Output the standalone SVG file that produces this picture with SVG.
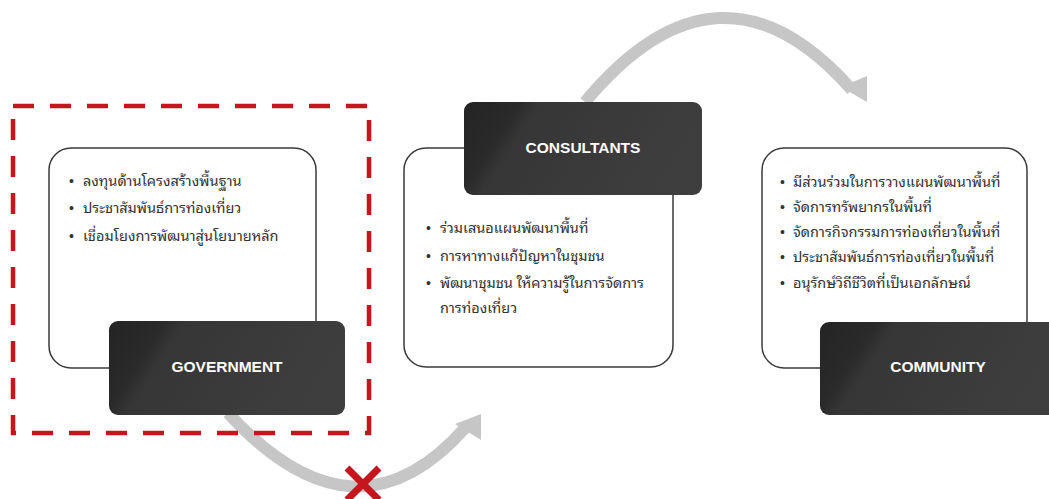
<svg xmlns="http://www.w3.org/2000/svg" width="1049" height="499" viewBox="0 0 1049 499">
<defs>
<linearGradient id="dark" x1="0" y1="0" x2="1" y2="0.25">
<stop offset="0" stop-color="#242424"/>
<stop offset="0.22" stop-color="#2a2a2a"/>
<stop offset="0.3" stop-color="#363636"/>
<stop offset="1" stop-color="#3e3e3e"/>
</linearGradient>
<style>
.card{fill:#ffffff;stroke:#3a3a3a;stroke-width:1.5}
.head{fill:url(#dark)}
.lbl{font-family:"Liberation Sans",Arial,sans-serif;font-weight:bold;font-size:15.5px;fill:#ffffff;text-anchor:middle}
.txt{font-family:"Noto Sans Thai Looped","Liberation Sans","Noto Sans Thai","Noto Sans",Tahoma,sans-serif;font-size:14.5px;fill:#333333}
.bul{font-family:"Liberation Sans",Arial,sans-serif;font-size:14px;fill:#333333}
.arc{fill:none;stroke:#c6c6c6;stroke-width:12}
.head-arrow{fill:#c6c6c6}
.red{fill:none;stroke:#c4161c}
</style>
</defs>
<rect width="1049" height="499" fill="#ffffff"/>
<g id="connectors">
<path class="arc" d="M585,102 Q720,-60 852,90"/>
<polygon class="head-arrow" points="841,87 867,76 867,102"/>
<path class="arc" d="M228,413 Q355,552 465,428"/>
<polygon class="head-arrow" points="455,424 481,414 481,440"/>
</g>
<g id="government">
<rect class="card" x="49" y="148" width="267" height="220" rx="22"/>
<text class="bul" x="69" y="186">•</text>
<text class="bul" x="69" y="213">•</text>
<text class="bul" x="69" y="241">•</text>
<text class="txt" x="83" y="186">ลงทุนด้านโครงสร้างพื้นฐาน</text>
<text class="txt" x="83" y="213">ประชาสัมพันธ์การท่องเที่ยว</text>
<text class="txt" x="83" y="241">เชื่อมโยงการพัฒนาสู่นโยบายหลัก</text>
<rect class="head" x="109" y="321" width="236" height="94" rx="9"/>
<text class="lbl" x="227" y="372">GOVERNMENT</text>
</g>
<g id="consultants">
<rect class="card" x="404" y="148" width="269" height="219" rx="22"/>
<rect class="head" x="464" y="102" width="238" height="93" rx="9"/>
<text class="lbl" x="583" y="153">CONSULTANTS</text>
<text class="bul" x="426" y="233">•</text>
<text class="bul" x="426" y="261">•</text>
<text class="bul" x="426" y="288">•</text>
<text class="txt" x="440" y="233">ร่วมเสนอแผนพัฒนาพื้นที่</text>
<text class="txt" x="440" y="261">การหาทางแก้ปัญหาในชุมชน</text>
<text class="txt" x="440" y="288">พัฒนาชุมชน ให้ความรู้ในการจัดการ</text>
<text class="txt" x="440" y="313">การท่องเที่ยว</text>
</g>
<g id="community">
<rect class="card" x="762" y="148" width="265" height="220" rx="22"/>
<text class="bul" x="780" y="187">•</text>
<text class="bul" x="780" y="212">•</text>
<text class="bul" x="780" y="237">•</text>
<text class="bul" x="780" y="262">•</text>
<text class="bul" x="780" y="288">•</text>
<text class="txt" x="793" y="187">มีส่วนร่วมในการวางแผนพัฒนาพื้นที่</text>
<text class="txt" x="793" y="212">จัดการทรัพยากรในพื้นที่</text>
<text class="txt" x="793" y="237">จัดการกิจกรรมการท่องเที่ยวในพื้นที่</text>
<text class="txt" x="793" y="262">ประชาสัมพันธ์การท่องเที่ยวในพื้นที่</text>
<text class="txt" x="793" y="288">อนุรักษ์วิถีชีวิตที่เป็นเอกลักษณ์</text>
<rect class="head" x="820" y="322" width="240" height="93" rx="9"/>
<text class="lbl" x="938" y="372">COMMUNITY</text>
</g>
<g id="highlight">
<rect class="red" x="13" y="106" width="356" height="327" stroke-width="4.5" stroke-dasharray="21 16"/>
<path class="red" stroke-width="7" d="M347,468 L379,500 M379,468 L347,500"/>
</g>
</svg>
